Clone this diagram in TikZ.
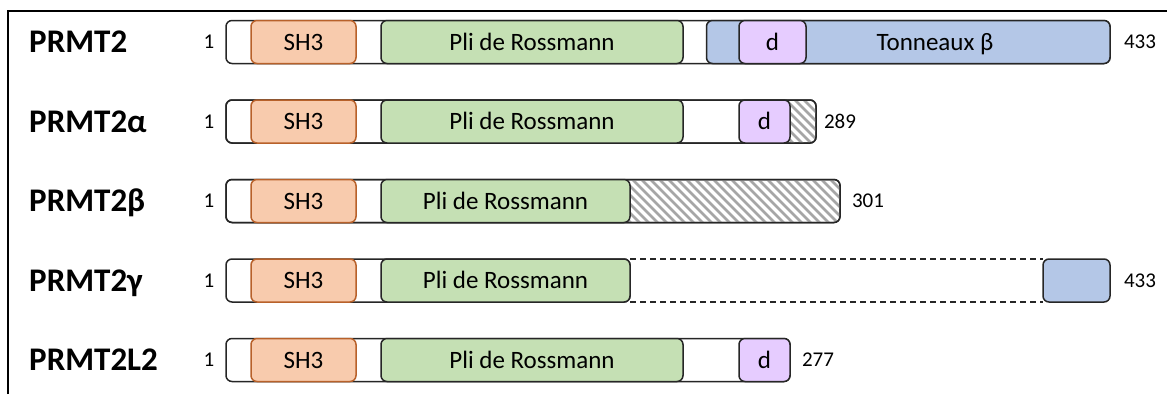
\documentclass[tikz,border=0pt]{standalone}
\usepackage{fontspec}
\setmainfont{Carlito}
\definecolor{linec}{HTML}{262626}
\definecolor{shf}{HTML}{F8CBAD}
\definecolor{shb}{HTML}{B8612A}
\definecolor{rf}{HTML}{C5E0B4}
\definecolor{bf}{HTML}{B4C7E7}
\definecolor{df}{HTML}{E6CCFF}
\definecolor{hatchc}{HTML}{A6A6A6}
\begin{document}
\begin{tikzpicture}[x=1pt,y=-1pt,
  seg/.style={draw=linec, line width=1.5pt, rounded corners=6pt, minimum height=43pt,
    inner sep=0pt, outer sep=0pt, anchor=west, font=\fontsize{25}{25}\selectfont,
    text height=16.1pt, text depth=0pt},
  barbox/.style={seg, fill=white},
  shbox/.style={seg, draw=shb, fill=shf},
  rbox/.style={seg, fill=rf},
  bbox/.style={seg, fill=bf},
  dbox/.style={seg, fill=df},
  txt/.style={inner sep=0pt, font=\fontsize{25}{25}\selectfont, text height=16.1pt, text depth=0pt},
  num/.style={inner sep=0pt, font=\fontsize{21}{21}\selectfont, text height=13.3pt, text depth=0pt},
  lab/.style={inner sep=0pt, anchor=base west, font=\fontsize{33}{33}\selectfont\bfseries},
  hatchl/.style={draw=hatchc, line width=2.8pt},
  border/.style={draw=linec, line width=1.5pt, rounded corners=6pt},
  dashl/.style={draw=linec, line width=1.5pt, dash pattern=on 6pt off 4pt},
  frame/.style={draw=black, line width=2pt}]
\useasboundingbox (0,0) rectangle (1167,394);
% frame
\coordinate (fa) at (8,394);
\coordinate (fb) at (8,11);
\coordinate (fc) at (1167,11);
\draw[frame] (fa) -- (fb) -- (fc);

% ---------- Row 1 : PRMT2 ----------
\node[lab] (l1) at (29,52.5) {PRMT2};
\node[num] (n1a) at (209,42) {1};
\node[barbox, minimum width=884pt] (o1) at (226,42) {};
\node[shbox, minimum width=105pt] (s1) at (251,42) {SH3};
\node[rbox, minimum width=302pt] (r1) at (381,42) {Pli de Rossmann};
\node[bbox, minimum width=403.5pt] (b1) at (706.5,42) {};
\node[dbox, minimum width=67pt] (d1) at (739,42) {d};
\node[txt] (t1) at (935,42) {Tonneaux β};
\node[num] (n1b) at (1140,42) {433};

% ---------- Row 2 : PRMT2alpha ----------
\node[lab] (l2) at (29,132) {PRMT2α};
\node[num] (n2a) at (209,121.5) {1};
\node[barbox, minimum width=590pt] (o2) at (226,121.5) {};
\begin{scope}
  \clip[rounded corners=6pt] (o2.north west) rectangle (o2.south east);
  \clip (785,90) rectangle (820,150);
  \foreach \k in {740,749,...,830} \draw[hatchl] (\k,90) -- (\k+60,150);
\end{scope}
\draw[border] (o2.north west) rectangle (o2.south east);
\node[shbox, minimum width=105pt] (s2) at (251,121.5) {SH3};
\node[rbox, minimum width=302pt] (r2) at (381,121.5) {Pli de Rossmann};
\node[dbox, minimum width=51pt] (d2) at (739,121.5) {d};
\node[num] (n2b) at (840,121.5) {289};

% ---------- Row 3 : PRMT2beta ----------
\node[lab] (l3) at (29,211.5) {PRMT2β};
\node[num] (n3a) at (209,201) {1};
\node[barbox, minimum width=614pt] (o3) at (226,201) {};
\begin{scope}
  \clip[rounded corners=6pt] (o3.north west) rectangle (o3.south east);
  \clip (620,170) rectangle (845,230);
  \foreach \k in {560,569,...,850} \draw[hatchl] (\k,170) -- (\k+60,230);
\end{scope}
\draw[border] (o3.north west) rectangle (o3.south east);
\node[shbox, minimum width=105pt] (s3) at (251,201) {SH3};
\node[rbox, minimum width=249pt] (r3) at (381,201) {Pli de Rossmann};
\node[num] (n3b) at (868,201) {301};

% ---------- Row 4 : PRMT2gamma ----------
\node[lab] (l4) at (29,291) {PRMT2γ};
\node[num] (n4a) at (209,280.5) {1};
\node[barbox, minimum width=404pt] (o4) at (226,280.5) {};
\node[shbox, minimum width=105pt] (s4) at (251,280.5) {SH3};
\node[rbox, minimum width=249pt] (r4) at (381,280.5) {Pli de Rossmann};
\node[bbox, minimum width=67pt] (b4) at (1043,280.5) {};
\draw[dashl] (r4.north east) -- (b4.north west);
\draw[dashl] (r4.south east) -- (b4.south west);
\node[num] (n4b) at (1140,280.5) {433};

% ---------- Row 5 : PRMT2L2 ----------
\node[lab] (l5) at (29,370.5) {PRMT2L2};
\node[num] (n5a) at (209,360) {1};
\node[barbox, minimum width=564pt] (o5) at (226,360) {};
\node[shbox, minimum width=105pt] (s5) at (251,360) {SH3};
\node[rbox, minimum width=302pt] (r5) at (381,360) {Pli de Rossmann};
\node[dbox, minimum width=51pt] (d5) at (739,360) {d};
\node[num] (n5b) at (818,360) {277};
\end{tikzpicture}
\end{document}
